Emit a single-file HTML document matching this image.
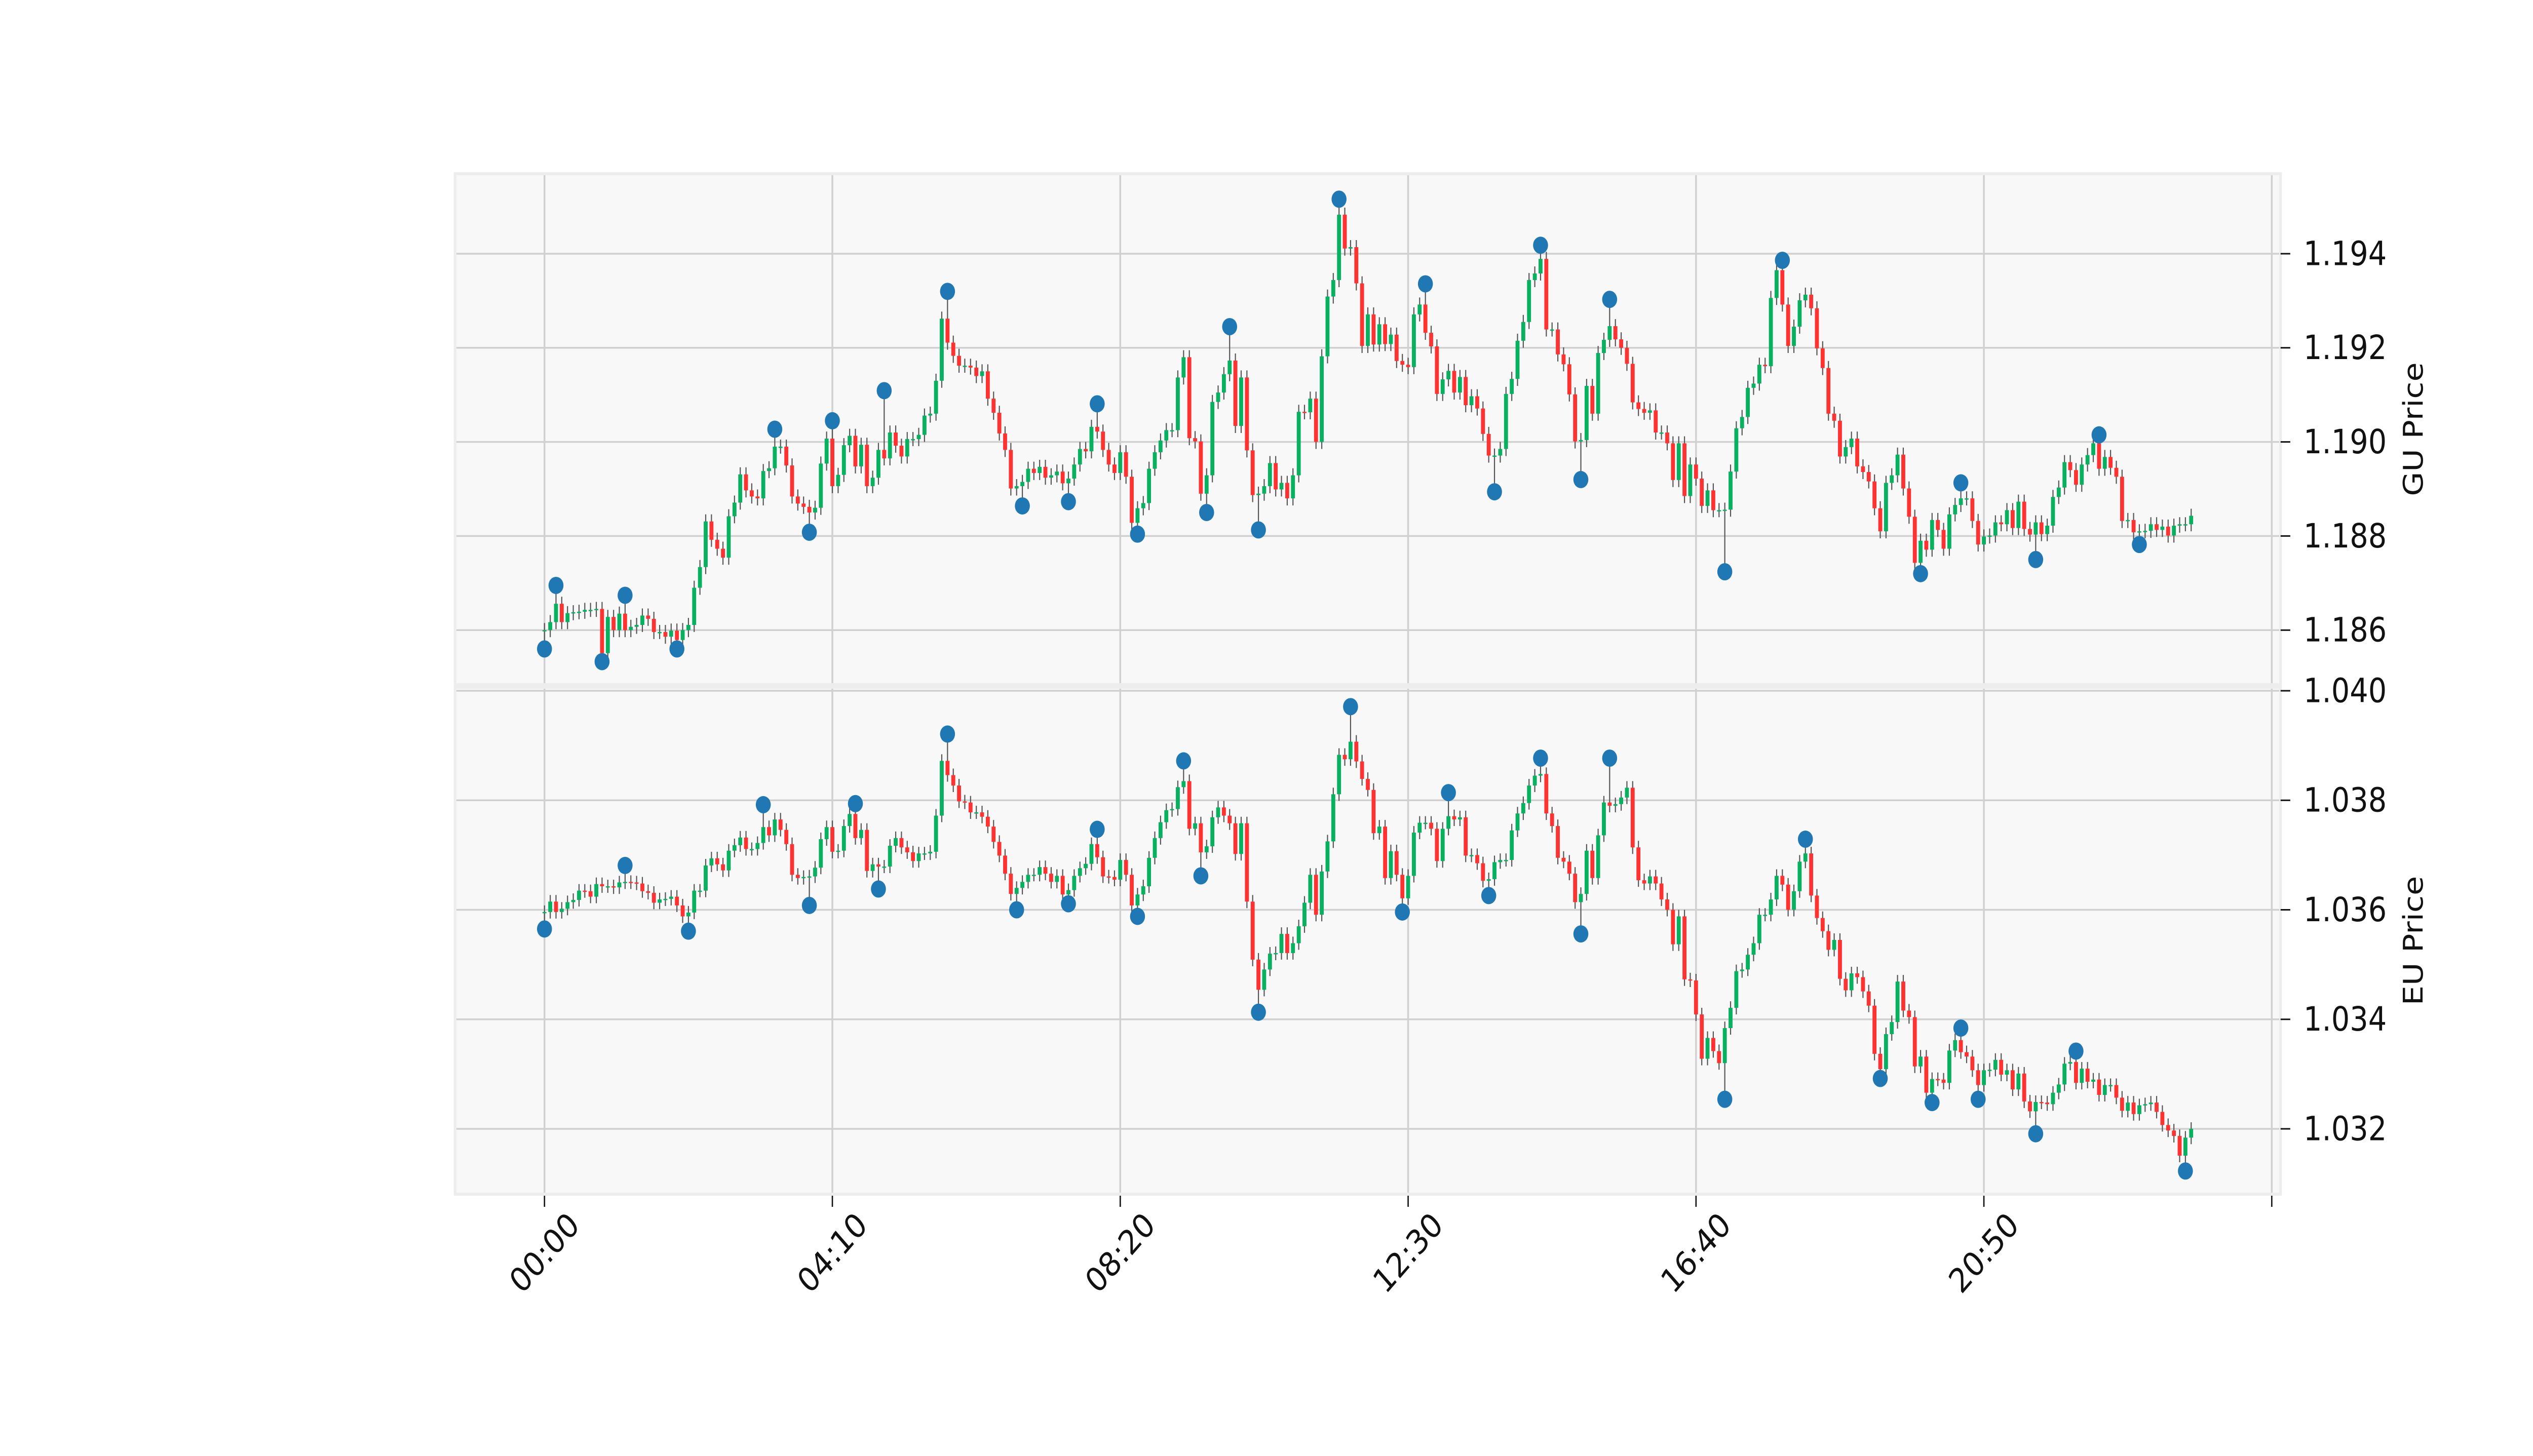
<!DOCTYPE html>
<html><head><meta charset="utf-8"><title>GU / EU Candlestick</title>
<style>
html,body{margin:0;padding:0;background:#fff;overflow:hidden;width:100vw;height:100vh;}
svg{display:block;width:100vw;height:100vh;}
text{font-family:"DejaVu Sans","Liberation Sans",sans-serif;fill:#111;}
</style></head>
<body>
<svg id="chart" viewBox="0 0 5750 2875" preserveAspectRatio="none" xmlns="http://www.w3.org/2000/svg">
<rect x="0" y="0" width="5750" height="2875" fill="#ffffff"/>
<g id="topPanel"></g>
<g id="botPanel"></g>
<g id="xaxis"></g>
</svg>
<script>
const guClose=[1.18600,1.18617,1.18656,1.18617,1.18636,1.18638,1.18639,1.18643,1.18643,1.18645,
1.18551,1.18628,1.18600,1.18635,1.18600,1.18607,1.18611,1.18631,1.18624,1.18596,
1.18596,1.18586,1.18599,1.18579,1.18600,1.18611,1.18690,1.18734,1.18831,1.18792,
1.18773,1.18754,1.18842,1.18871,1.18931,1.18897,1.18884,1.18880,1.18938,1.18944,
1.18990,1.18990,1.18950,1.18884,1.18869,1.18862,1.18850,1.18860,1.18954,1.19007,
1.18906,1.18930,1.18993,1.19013,1.18948,1.18994,1.18906,1.18924,1.18983,1.18965,
1.19020,1.18992,1.18969,1.19006,1.19006,1.19015,1.19056,1.19060,1.19130,1.19262,
1.19211,1.19183,1.19162,1.19162,1.19158,1.19140,1.19150,1.19092,1.19062,1.19018,
1.18983,1.18901,1.18906,1.18915,1.18943,1.18934,1.18947,1.18924,1.18929,1.18937,
1.18912,1.18922,1.18952,1.18985,1.18980,1.19032,1.19022,1.18983,1.18952,1.18934,
1.18978,1.18926,1.18828,1.18859,1.18870,1.18943,1.18978,1.19003,1.19025,1.19025,
1.19137,1.19180,1.19008,1.19001,1.18890,1.18929,1.19085,1.19105,1.19144,1.19173,
1.19034,1.19137,1.18982,1.18887,1.18890,1.18906,1.18955,1.18899,1.18913,1.18880,
1.18929,1.19064,1.19063,1.19092,1.19000,1.19182,1.19309,1.19344,1.19483,1.19411,
1.19414,1.19337,1.19204,1.19271,1.19207,1.19250,1.19208,1.19228,1.19172,1.19164,
1.19159,1.19271,1.19292,1.19232,1.19203,1.19102,1.19133,1.19151,1.19105,1.19138,
1.19078,1.19097,1.19071,1.19017,1.18971,1.18971,1.18985,1.19102,1.19134,1.19215,
1.19255,1.19344,1.19358,1.19389,1.19239,1.19239,1.19186,1.19165,1.19101,1.19001,
1.19004,1.19119,1.19060,1.19189,1.19217,1.19246,1.19218,1.19200,1.19166,1.19084,
1.19070,1.19062,1.19067,1.19020,1.19020,1.18997,1.18919,1.18997,1.18885,1.18952,
1.18922,1.18864,1.18897,1.18855,1.18855,1.18856,1.18937,1.19029,1.19053,1.19115,
1.19124,1.19164,1.19161,1.19306,1.19365,1.19292,1.19204,1.19245,1.19301,1.19313,
1.19284,1.19199,1.19157,1.19060,1.19045,1.18969,1.18989,1.19007,1.18948,1.18936,
1.18916,1.18859,1.18810,1.18913,1.18929,1.18973,1.18901,1.18841,1.18743,1.18790,
1.18771,1.18834,1.18813,1.18773,1.18846,1.18866,1.18880,1.18880,1.18832,1.18782,
1.18799,1.18801,1.18829,1.18825,1.18855,1.18817,1.18873,1.18815,1.18803,1.18829,
1.18804,1.18822,1.18883,1.18903,1.18957,1.18940,1.18909,1.18952,1.18972,1.18997,
1.18943,1.18968,1.18945,1.18926,1.18832,1.18834,1.18808,1.18810,1.18811,1.18825,
1.18813,1.18820,1.18801,1.18822,1.18825,1.18825,1.18843];
const euClose=[1.03596,1.03615,1.03596,1.03602,1.03614,1.03618,1.03635,1.03634,1.03624,1.03647,
1.03643,1.03643,1.03641,1.03650,1.03651,1.03650,1.03648,1.03634,1.03631,1.03613,
1.03619,1.03620,1.03624,1.03608,1.03588,1.03595,1.03635,1.03635,1.03681,1.03694,
1.03683,1.03672,1.03708,1.03718,1.03732,1.03711,1.03711,1.03722,1.03751,1.03736,
1.03765,1.03746,1.03720,1.03664,1.03658,1.03660,1.03661,1.03677,1.03729,1.03751,
1.03706,1.03708,1.03753,1.03775,1.03731,1.03746,1.03671,1.03683,1.03679,1.03679,
1.03717,1.03731,1.03714,1.03705,1.03689,1.03703,1.03703,1.03706,1.03772,1.03872,
1.03846,1.03827,1.03798,1.03796,1.03778,1.03778,1.03770,1.03752,1.03724,1.03699,
1.03666,1.03629,1.03640,1.03651,1.03664,1.03664,1.03678,1.03666,1.03651,1.03662,
1.03628,1.03636,1.03662,1.03676,1.03684,1.03720,1.03696,1.03661,1.03660,1.03655,
1.03691,1.03664,1.03608,1.03628,1.03643,1.03695,1.03731,1.03760,1.03782,1.03784,
1.03824,1.03835,1.03748,1.03758,1.03705,1.03716,1.03769,1.03787,1.03772,1.03758,
1.03702,1.03758,1.03615,1.03509,1.03454,1.03491,1.03520,1.03521,1.03556,1.03521,
1.03539,1.03570,1.03613,1.03664,1.03591,1.03670,1.03725,1.03811,1.03883,1.03875,
1.03907,1.03871,1.03839,1.03819,1.03740,1.03752,1.03658,1.03707,1.03664,1.03621,
1.03662,1.03741,1.03759,1.03759,1.03748,1.03689,1.03748,1.03771,1.03765,1.03769,
1.03699,1.03700,1.03685,1.03653,1.03656,1.03687,1.03691,1.03691,1.03745,1.03776,
1.03795,1.03827,1.03845,1.03848,1.03776,1.03753,1.03695,1.03688,1.03666,1.03614,
1.03629,1.03708,1.03658,1.03736,1.03796,1.03790,1.03793,1.03805,1.03823,1.03714,
1.03654,1.03648,1.03661,1.03648,1.03619,1.03600,1.03537,1.03588,1.03473,1.03471,
1.03409,1.03328,1.03366,1.03342,1.03320,1.03384,1.03421,1.03488,1.03491,1.03518,
1.03539,1.03591,1.03591,1.03619,1.03662,1.03646,1.03600,1.03634,1.03688,1.03703,
1.03626,1.03585,1.03561,1.03527,1.03545,1.03474,1.03453,1.03484,1.03477,1.03451,
1.03425,1.03337,1.03309,1.03373,1.03395,1.03469,1.03416,1.03404,1.03314,1.03332,
1.03266,1.03291,1.03290,1.03284,1.03343,1.03362,1.03340,1.03332,1.03307,1.03280,
1.03307,1.03308,1.03326,1.03299,1.03307,1.03272,1.03301,1.03250,1.03232,1.03249,
1.03248,1.03245,1.03266,1.03281,1.03319,1.03322,1.03284,1.03310,1.03286,1.03290,
1.03262,1.03280,1.03280,1.03257,1.03233,1.03248,1.03227,1.03243,1.03245,1.03248,
1.03231,1.03207,1.03197,1.03187,1.03151,1.03184,1.03200];
const guMarkIdx=[0,2,10,14,23,40,46,50,59,70,83,91,96,103,115,119,124,138,153,165,173,180,185,205,215,239,246,259,270,277];
const guMarkVal=[1.18560,1.18695,1.18533,1.18674,1.18560,1.19027,1.18808,1.19045,1.19109,1.19320,1.18864,1.18873,1.19081,1.18804,1.18850,1.19245,1.18813,1.19516,1.19336,1.18894,1.19418,1.18920,1.19303,1.18724,1.19386,1.18720,1.18913,1.18750,1.19015,1.18782];
const euMarkIdx=[0,14,25,38,46,54,58,70,82,91,96,103,111,114,124,140,149,157,164,173,180,185,205,219,232,241,246,249,259,266,285];
const euMarkVal=[1.03565,1.03681,1.03561,1.03792,1.03608,1.03794,1.03638,1.03921,1.03600,1.03611,1.03747,1.03588,1.03872,1.03662,1.03413,1.03971,1.03596,1.03814,1.03626,1.03877,1.03556,1.03877,1.03254,1.03729,1.03292,1.03248,1.03384,1.03254,1.03191,1.03342,1.03123];
const xTickIdx=[0,50,100,150,200,250,300];
const xTickLabels=["00:00","04:10","08:20","12:30","16:40","20:50",""];
const guTicks=[1.186,1.188,1.190,1.192,1.194];
const euTicks=[1.032,1.034,1.036,1.038,1.040];

const NS="http://www.w3.org/2000/svg";
const AX_L=1033, AX_R=5177;
const X0=1236, DX=13.07;
const xOf=i=>X0+i*DX;
const guY=p=>501+(1.194-p)*92900;
const euY=p=>1364+(1.040-p)*108125;
const GREEN="#08b160", RED="#ff3232", WICK="#555555", MARK="#1f77b4", GRID="#d0d0d0";

function mk(tag,attrs,parent){const e=document.createElementNS(NS,tag);for(const k in attrs)e.setAttribute(k,attrs[k]);parent.appendChild(e);return e;}

function panel(g,top,bot,closes,yFn,ticks,mIdx,mVal,label,wickExt,key){
  const bg=mk('rect',{x:AX_L,y:top,width:AX_R-AX_L,height:bot-top,fill:'#f8f8f8',stroke:'#ededed','stroke-width':6},g);
  
  
  ticks.forEach(t=>{
    const y=yFn(t);
    const gl=mk('line',{x1:AX_L+3,x2:AX_R-3,y1:y,y2:y,stroke:GRID,'stroke-width':3.5},g);
    
    
    const tk=mk('line',{x1:AX_R,x2:AX_R+22,y1:y,y2:y,stroke:'#111','stroke-width':3},g);
    
    
    const tl=mk('text',{x:5229,y:y,'font-size':66,'dominant-baseline':'central'},g);
    tl.textContent=t.toFixed(3);
    
    
  });
  xTickIdx.forEach(i=>{
    const x=xOf(i);
    const vg=mk('line',{x1:x,x2:x,y1:top+3,y2:bot-3,stroke:GRID,'stroke-width':4},g);
    
    
  });
  const cg=mk('g',{},g);
  
  
  for(let i=0;i<closes.length;i++){
    const o=i===0?closes[0]:closes[i-1], c=closes[i];
    const x=xOf(i);
    let hi=Math.max(o,c)+wickExt, lo=Math.min(o,c)-wickExt;
    const mi=mIdx.indexOf(i);
    if(mi>=0){const v=mVal[mi]; if(v>Math.max(o,c))hi=v; else lo=v;}
    const w=mk('line',{x1:x,x2:x,y1:yFn(hi),y2:yFn(lo),stroke:WICK,'stroke-width':2.5},cg);
    
    
    const yt=yFn(Math.max(o,c)), yb=yFn(Math.min(o,c));
    const b=mk('rect',{x:x-4.5,y:yt,width:9,height:Math.max(2.5,yb-yt),fill:c>=o?GREEN:RED},cg);
    
    
  }
  mIdx.forEach((i,k)=>{
    const m=mk('circle',{cx:xOf(i),cy:yFn(mVal[k]),r:17,fill:MARK},g);
    
    
  });
  const yl=mk('text',{x:0,y:0,'font-size':62,'text-anchor':'middle','dominant-baseline':'central',transform:`translate(5478,${(top+bot)/2}) rotate(-90)`},g);
  yl.textContent=label;
  
  
}
panel(document.getElementById('topPanel'),343,1352,guClose,guY,guTicks,guMarkIdx,guMarkVal,'GU Price',0.00015,'gu');
panel(document.getElementById('botPanel'),1357,2358,euClose,euY,euTicks,euMarkIdx,euMarkVal,'EU Price',0.00012,'eu');

const xa=document.getElementById('xaxis');
xTickIdx.forEach((i,k)=>{
  const x=xOf(i);
  const t=mk('line',{x1:x,x2:x,y1:2361,y2:2383,stroke:'#111','stroke-width':3},xa);
  
  
  if(xTickLabels[k]){
    const l=mk('text',{x:0,y:0,'font-size':66,'text-anchor':'middle','dominant-baseline':'central',transform:`translate(${x},2474) rotate(-45)`},xa);
    l.textContent=xTickLabels[k];
    
    
  }
});
</script>
</body></html>
